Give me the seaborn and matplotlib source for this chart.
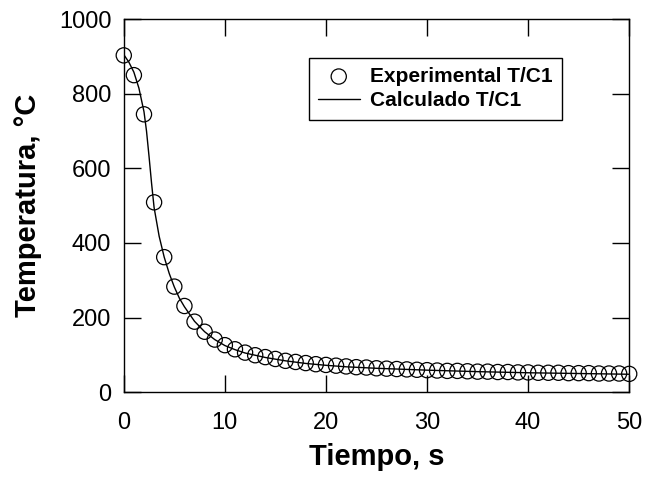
import matplotlib
matplotlib.use("Agg")
import matplotlib.pyplot as plt
import seaborn as sns
import pandas as pd

# Experimental data (every 1 s)
exp_time = list(range(0, 51))
exp_temp = [903, 850, 745, 509, 362, 283, 231, 189, 162, 141,
            126, 115, 106, 99, 94, 89, 84, 81, 78, 75,
            73, 71, 69, 67, 66, 64, 63, 62, 61, 60,
            59, 58, 57, 57, 56, 55, 55, 54, 54, 53,
            53, 52, 52, 52, 51, 51, 51, 50, 50, 50, 49]

# Calculated curve
calc_time = [0, 0.5, 1, 1.5, 2, 2.25, 2.5, 2.75, 3, 3.5, 4, 4.5, 5, 5.5, 6, 7, 8, 9,
             10, 11, 12, 14, 16, 18, 20, 22, 25, 30, 35, 40, 45, 50]
calc_temp = [905, 885, 858, 815, 752, 700, 632, 560, 495, 418, 362, 318, 282, 252, 229, 190, 162, 141,
             125, 114, 105, 93, 84, 77, 72, 68, 64, 59, 55, 52, 50, 48]

x_ticks = [0, 10, 20, 30, 40, 50]
y_ticks = [0, 200, 400, 600, 800, 1000]

sns.set_style("ticks")
plt.rcParams['font.family'] = ['Liberation Sans', 'DejaVu Sans']
plt.rcParams['text.color'] = 'black'
plt.rcParams['axes.labelcolor'] = 'black'
plt.rcParams['xtick.color'] = 'black'
plt.rcParams['ytick.color'] = 'black'

fig = plt.figure(figsize=(6.48, 4.8), dpi=100)
ax = fig.add_axes([0.191, 0.183, 0.780, 0.777])

df_exp = pd.DataFrame({"t": exp_time, "T": exp_temp})
df_calc = pd.DataFrame({"t": calc_time, "T": calc_temp})

sns.scatterplot(data=df_exp, x="t", y="T", ax=ax, marker="o", s=120,
                facecolor="none", edgecolor="black", linewidth=0.9,
                label="Experimental T/C1", clip_on=False, zorder=3)
sns.lineplot(data=df_calc, x="t", y="T", ax=ax, color="black", linewidth=1.0,
             label="Calculado T/C1", zorder=2)

ax.set_xlim(0, 50)
ax.set_ylim(0, 1000)
ax.set_xticks(x_ticks)
ax.set_yticks(y_ticks)
ax.tick_params(direction="in", length=12, width=1.0, top=True, right=True,
               labelsize=17, color="black", labelcolor="black")
ax.tick_params(axis="x", pad=14)
ax.tick_params(axis="y", pad=9)
for s in ax.spines.values():
    s.set_linewidth(1.0)
    s.set_color("black")

ax.set_xlabel("Tiempo, s", fontsize=21, fontweight="bold", labelpad=7, color="black")
ax.set_ylabel("Temperatura, °C", fontsize=21, fontweight="bold", labelpad=12, color="black")

leg = ax.legend(loc="upper right", bbox_to_anchor=(0.867, 0.897), frameon=True,
                fancybox=False, edgecolor="black", framealpha=1,
                prop={"size": 15, "weight": "bold"}, handlelength=2.0,
                handletextpad=0.5, borderpad=0.45, labelspacing=0.25,
                borderaxespad=0)
leg.get_frame().set_linewidth(1.0)
for txt in leg.get_texts():
    txt.set_color("black")

fig.savefig("out.png", dpi=100)
